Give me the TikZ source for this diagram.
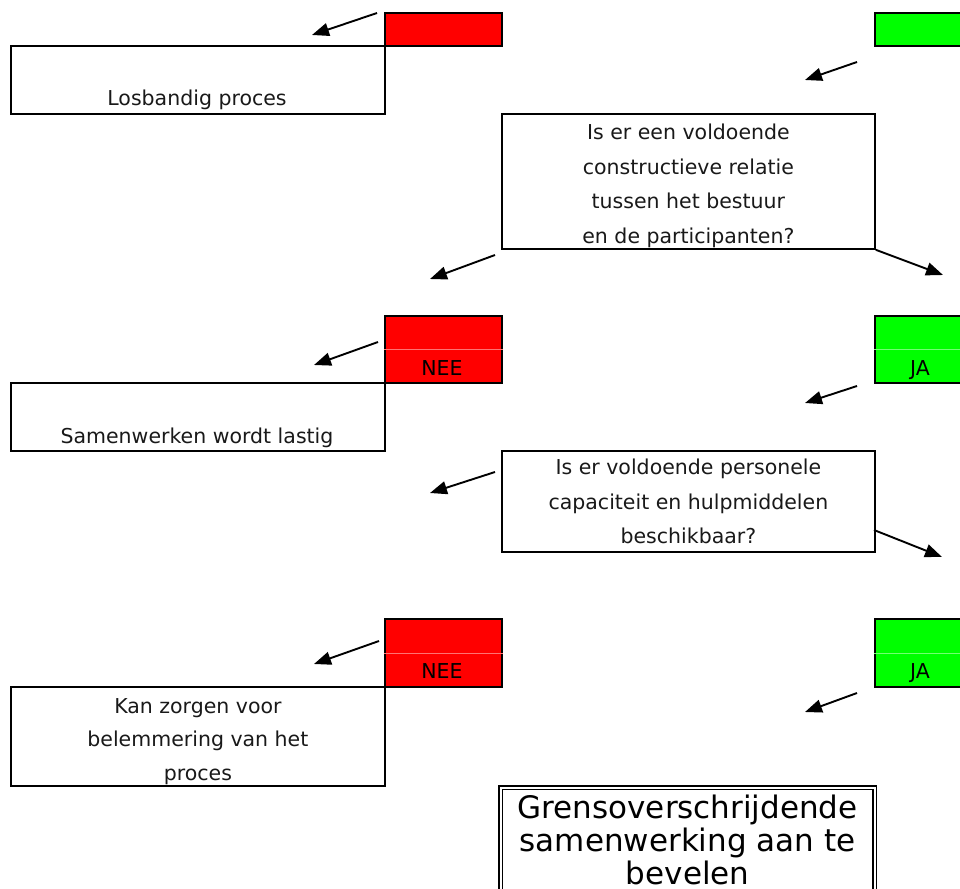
\documentclass[tikz,border=0pt]{standalone}
\usepackage{fontspec}
\setmainfont{DejaVu Sans}
\usetikzlibrary{arrows.meta,calc}
\definecolor{nored}{RGB}{255,0,0}
\definecolor{yesgreen}{RGB}{0,255,0}
\begin{document}
\begin{tikzpicture}[x=1pt,y=-1pt,
  frame/.style={draw=black, line width=1.8pt},
  cell/.style={frame, inner sep=0pt, anchor=north west},
  divider/.style={line width=0.7pt},
  flowarrow/.style={draw=black, line width=1.9pt, -{Triangle[length=17pt,width=13pt]}},
  bodytext/.style={font=\fontsize{20.5}{34.4}\selectfont, align=center, inner sep=0pt, text=black!90},
  answer/.style={font=\fontsize{20.5}{22}\selectfont, inner sep=0pt, anchor=base},
  verdict/.style={font=\fontsize{31}{33}\selectfont, align=center, inner sep=0pt},
]
\clip (0,0) rectangle (960,888);

% --- first level: answer cells and outcome box ---
\node[cell, fill=nored, minimum width=117, minimum height=33] (nee0) at (384,12) {};
\node[cell, fill=yesgreen, minimum width=117, minimum height=33] (ja0) at (874,12) {};
\node[cell, minimum width=374, minimum height=68] (los) at (10,45) {};
\node[bodytext, anchor=base] (lostxt) at (197,106) {Losbandig proces};

% --- question 1 ---
\node[cell, minimum width=373, minimum height=135, bodytext,
      text depth=0pt] (q1) at (501,113) {};
\node[bodytext, yshift=-4.5pt] (q1txt) at (q1.center)
  {Is er een voldoende\\constructieve relatie\\tussen het bestuur\\en de participanten?};

% --- second level ---
\node[cell, fill=nored, minimum width=117, minimum height=67] (nee1) at (384,315) {};
\draw[divider, draw=nored!55!white] (nee1.west) -- (nee1.east);
\node[answer] (nee1txt) at (442,375) {NEE};
\node[cell, fill=yesgreen, minimum width=117, minimum height=67] (ja1) at (874,315) {};
\draw[divider, draw=yesgreen!55!white] (ja1.west) -- (ja1.east);
\node[answer] (ja1txt) at (920,375) {JA};
\node[cell, minimum width=374, minimum height=68] (samen) at (10,382) {};
\node[bodytext, anchor=base] (samentxt) at (197,443) {Samenwerken wordt lastig};

% --- question 2 ---
\node[cell, minimum width=373, minimum height=101] (q2) at (501,450) {};
\node[bodytext] (q2txt) at (q2.center)
  {Is er voldoende personele\\capaciteit en hulpmiddelen\\beschikbaar?};

% --- third level ---
\node[cell, fill=nored, minimum width=117, minimum height=68] (nee2) at (384,618) {};
\draw[divider, draw=nored!55!white] (nee2.west) -- (nee2.east);
\node[answer] (nee2txt) at (442,678) {NEE};
\node[cell, fill=yesgreen, minimum width=117, minimum height=68] (ja2) at (874,618) {};
\draw[divider, draw=yesgreen!55!white] (ja2.west) -- (ja2.east);
\node[answer] (ja2txt) at (920,678) {JA};
\node[cell, minimum width=374, minimum height=99] (belem) at (10,686) {};
\node[bodytext, font=\fontsize{20.5}{33.5}\selectfont, yshift=-5pt] (belemtxt) at (belem.center)
  {Kan zorgen voor\\belemmering van het\\proces};

% --- final verdict ---
\node[draw=black, line width=1.3pt, double=white, double distance=2.2pt,
      inner sep=0pt, anchor=north west, minimum width=374, minimum height=114]
  (advies) at (500,787) {};
\node[verdict, yshift=5pt] (adviestxt) at (advies.center)
  {Grensoverschrijdende\\samenwerking aan te\\bevelen};

% --- arrow end points ---
\coordinate (a1s) at (377,13);  \coordinate (a1e) at (312,35);
\coordinate (a2s) at (857,62);  \coordinate (a2e) at (805,80);
\coordinate (a3s) at (495,255); \coordinate (a3e) at (430,279);
\coordinate (a4e) at (943,275);
\coordinate (a5s) at (378,342); \coordinate (a5e) at (314,365);
\coordinate (a6s) at (857,386); \coordinate (a6e) at (805,403);
\coordinate (a7s) at (495,472); \coordinate (a7e) at (430,493);
\coordinate (a8s) at (874,530); \coordinate (a8e) at (942,557);
\coordinate (a9s) at (379,641); \coordinate (a9e) at (314,664);
\coordinate (a10s) at (857,693); \coordinate (a10e) at (805,712);

\draw[flowarrow] (a1s) -- (a1e);
\draw[flowarrow] (a2s) -- (a2e);
\draw[flowarrow] (a3s) -- (a3e);
\draw[flowarrow] (q1.south east) -- (a4e);
\draw[flowarrow] (a5s) -- (a5e);
\draw[flowarrow] (a6s) -- (a6e);
\draw[flowarrow] (a7s) -- (a7e);
\draw[flowarrow] (a8s) -- (a8e);
\draw[flowarrow] (a9s) -- (a9e);
\draw[flowarrow] (a10s) -- (a10e);
\end{tikzpicture}
\end{document}
